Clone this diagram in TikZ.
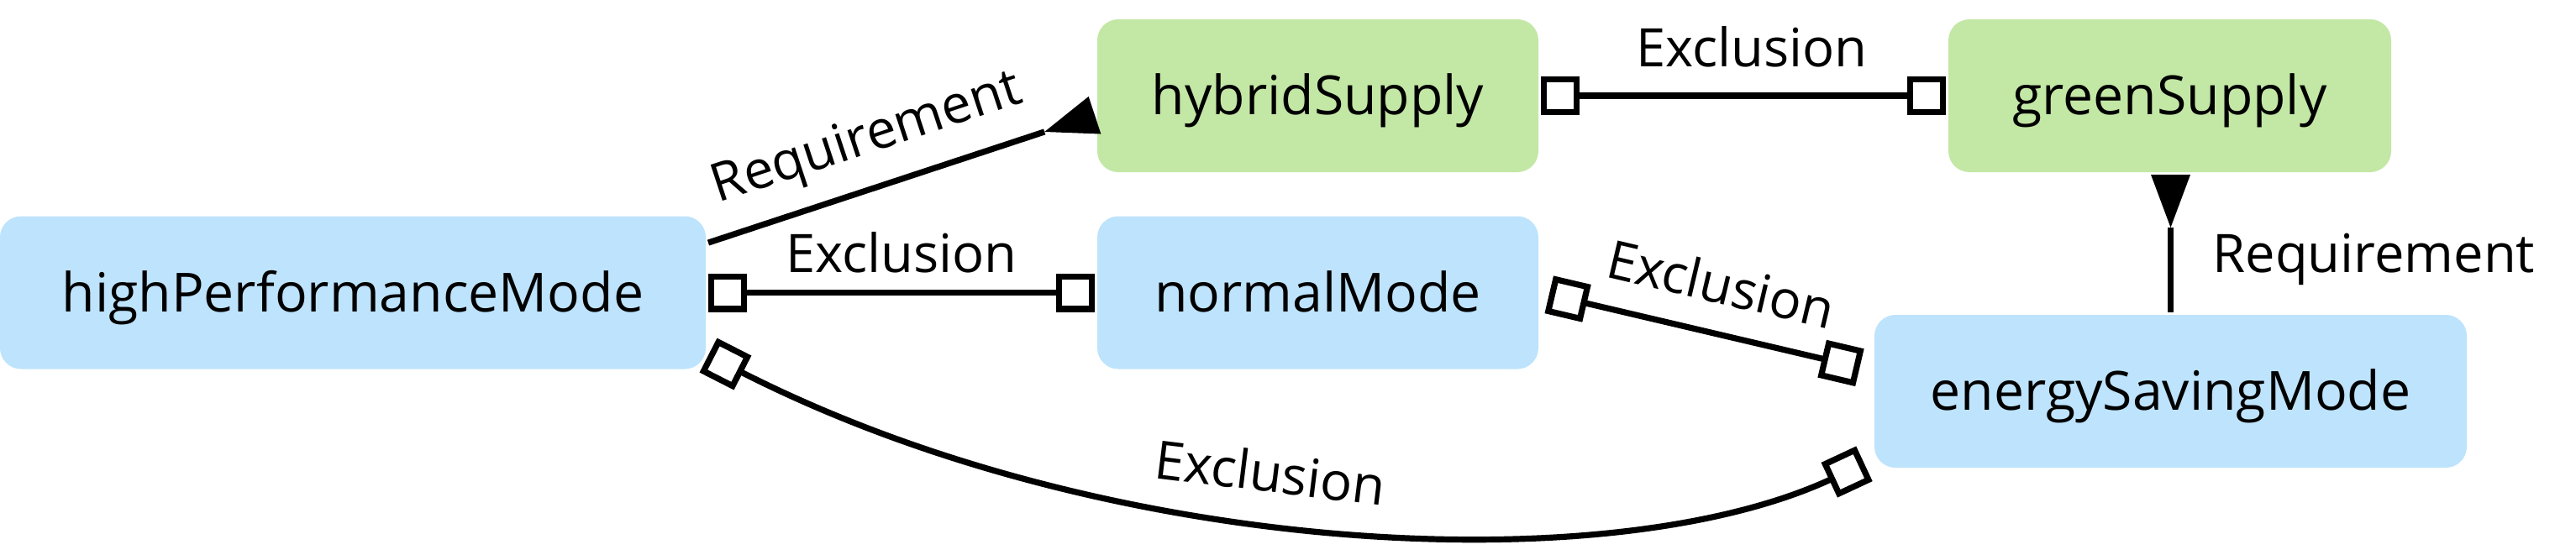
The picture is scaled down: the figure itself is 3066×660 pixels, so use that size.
\documentclass[tikz,border=0pt]{standalone}
\usepackage{fontspec}
\setmainfont{Open Sans}
\usetikzlibrary{arrows.meta,calc}
\definecolor{modeblue}{RGB}{190,227,252}
\definecolor{supplygreen}{RGB}{195,231,165}
\begin{document}
\begin{tikzpicture}[x=0.1mm,y=-0.1mm,
  feat/.style={rectangle, rounded corners=2.5mm, inner sep=0pt, outer sep=0.3mm,
     minimum height=18.2mm, text height=4.5mm, text depth=0pt,
     font=\fontsize{18.3}{22}\selectfont},
  mode/.style={feat, fill=modeblue},
  supply/.style={feat, fill=supplygreen},
  conn/.style={line width=0.72mm},
  excl/.style={conn, {Square[length=4.6mm,fill=white]}-{Square[length=4.6mm,fill=white]}},
  req/.style={conn, -{Triangle[reversed,length=6.3mm,width=4.7mm,line width=0pt]}},
  lbl/.style={font=\fontsize{18}{22}\selectfont, inner sep=0pt, outer sep=0pt, text depth=0pt},
]
\useasboundingbox (0,0) rectangle (3066,660);
% nodes
\node[mode, minimum width=84mm]   (hp) at (420,348.5)  {highPerformanceMode};
\node[mode, minimum width=52.5mm] (nm) at (1568.5,348.5) {normalMode};
\node[supply, minimum width=52.5mm] (hy) at (1568.5,114) {hybridSupply};
\node[supply, minimum width=52.7mm] (gs) at (2582.5,114) {greenSupply};
\node[mode, minimum width=70.5mm] (es) at (2583.5,466) {energySavingMode};
% connectors
\draw[req] (hp.8.3) -- node[lbl, sloped, above, outer sep=4.1mm, pos=0.45] {Requirement} (hy.185);
\draw[excl] (hp.east) -- node[lbl, above, outer sep=2.4mm] {Exclusion} (nm.west);
\draw[excl] (hy.east) -- node[lbl, above, outer sep=3.5mm, pos=0.52] {Exclusion} (gs.west);
\draw[excl, shorten <=1mm, shorten >=1.5mm] (nm.east) -- node[lbl, sloped, above, outer sep=3.6mm, pos=0.51] {Exclusion} (es.176.4);
\draw[req] (es.north) -- node[lbl, pos=0.29, anchor=base west, xshift=5mm] {Requirement} (es.north |- gs.south);
\draw[excl, shorten >=1mm] (hp.-10.2) .. controls +(472,241) and +(-313,146) .. node[lbl, sloped, above, outer sep=3.6mm, pos=0.44] {Exclusion} (es.193.1);
\end{tikzpicture}
\end{document}
